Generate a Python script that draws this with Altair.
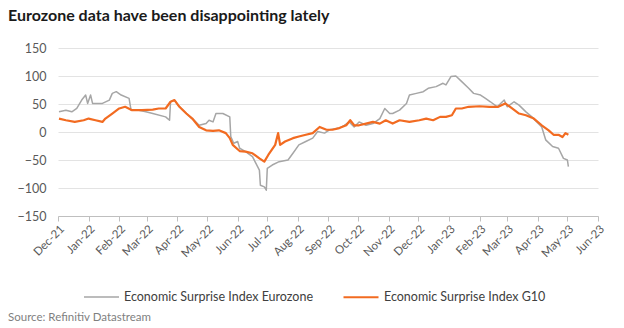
import altair as alt
import pandas as pd

ez_dates = ["2021-12-02","2021-12-09","2021-12-15","2021-12-20","2021-12-25","2021-12-29","2021-12-31",
            "2022-01-03","2022-01-05","2022-01-15","2022-01-22","2022-01-25","2022-01-29","2022-02-03",
            "2022-02-11","2022-02-13","2022-02-21","2022-02-28","2022-03-07","2022-03-20","2022-03-24",
            "2022-03-25","2022-03-29","2022-04-03","2022-04-10","2022-04-16","2022-04-23","2022-04-30",
            "2022-05-03","2022-05-07","2022-05-10","2022-05-17","2022-05-24","2022-05-25","2022-05-28",
            "2022-06-01","2022-06-03","2022-06-09","2022-06-16","2022-06-23","2022-06-24","2022-06-28",
            "2022-06-30","2022-07-01","2022-07-06","2022-07-13","2022-07-22","2022-07-27","2022-08-02",
            "2022-08-09","2022-08-16","2022-08-21","2022-08-28","2022-09-02","2022-09-12","2022-09-17",
            "2022-09-22","2022-09-27","2022-10-02","2022-10-09","2022-10-16","2022-10-23","2022-10-28",
            "2022-11-02","2022-11-05","2022-11-12","2022-11-19","2022-11-22","2022-11-29","2022-12-06",
            "2022-12-11","2022-12-19","2022-12-26","2022-12-29","2023-01-03","2023-01-08","2023-01-14",
            "2023-01-21","2023-01-26","2023-02-02","2023-02-07","2023-02-12","2023-02-19","2023-02-26",
            "2023-03-01","2023-03-08","2023-03-13","2023-03-20","2023-03-26","2023-03-31","2023-04-05",
            "2023-04-09","2023-04-16","2023-04-22","2023-04-27","2023-05-01","2023-05-02"]
ez_values = [36, 39, 36, 42, 57, 66, 51,
             66, 51, 51, 57, 69, 72, 66,
             60, 39, 39, 36, 33, 27, 21,
             54, 57, 45, 33, 24, 12, 15,
             21, 18, 33, 33, 27, -8, -20,
             -17, -29, -35, -44, -68, -95, -98,
             -104, -65, -59, -53, -50, -38, -23,
             -17, -11, 1, -2, 4, 7, 12,
             18, 9, 18, 12, 15, 24, 42,
             33, 33, 39, 51, 66, 69, 72,
             78, 81, 87, 84, 99, 100, 90,
             78, 69, 66, 60, 54, 45, 57,
             45, 54, 48, 36, 27, 18, 9,
             -14, -26, -29, -47, -50, -62]

g10_dates = ["2021-12-02","2021-12-09","2021-12-18","2021-12-27","2022-01-01","2022-01-08","2022-01-15",
             "2022-01-18","2022-01-25","2022-02-01","2022-02-07","2022-02-14","2022-02-24","2022-03-07",
             "2022-03-13","2022-03-20","2022-03-25","2022-03-29","2022-04-03","2022-04-10","2022-04-16",
             "2022-04-23","2022-04-30","2022-05-07","2022-05-13","2022-05-20","2022-05-24","2022-05-27",
             "2022-06-03","2022-06-09","2022-06-16","2022-06-23","2022-06-28","2022-07-02","2022-07-09",
             "2022-07-12","2022-07-14","2022-07-19","2022-07-27","2022-08-02","2022-08-09","2022-08-16",
             "2022-08-23","2022-08-30","2022-09-05","2022-09-12","2022-09-19","2022-09-23","2022-09-27",
             "2022-10-02","2022-10-09","2022-10-16","2022-10-23","2022-10-29","2022-11-05","2022-11-12",
             "2022-11-22","2022-12-02","2022-12-09","2022-12-16","2022-12-23","2022-12-29","2023-01-04",
             "2023-01-08","2023-01-14","2023-01-21","2023-02-01","2023-02-11","2023-02-20","2023-02-27",
             "2023-03-06","2023-03-13","2023-03-20","2023-03-28","2023-04-05","2023-04-12","2023-04-17",
             "2023-04-22","2023-04-26","2023-04-29","2023-05-02"]
g10_values = [24, 21, 18, 21, 24, 21, 18,
              24, 33, 42, 45, 39, 39, 40,
              42, 42, 54, 57, 45, 33, 24,
              9, 3, 2, 3, -2, -11, -23,
              -34, -35, -38, -47, -53, -41, -23,
              -2, -23, -17, -11, -8, -5, -2,
              9, 4, 4, 7, 12, 21, 12,
              12, 15, 18, 15, 21, 15, 21,
              18, 21, 24, 21, 27, 27, 30,
              42, 42, 45, 46, 45, 45, 51,
              42, 33, 30, 24, 12, 3, -5,
              -5, -9, -2, -5]

s_ez = "Economic Surprise Index Eurozone"
s_g10 = "Economic Surprise Index G10"

df = pd.concat([
    pd.DataFrame({"date": ez_dates, "value": ez_values, "series": s_ez}),
    pd.DataFrame({"date": g10_dates, "value": g10_values, "series": s_g10}),
])

FONT = "Lato"
W, H = 540, 168

lines = alt.Chart(df).mark_line(strokeJoin="round").encode(
    x=alt.X("date:T",
            scale=alt.Scale(domain=["2021-12-01", "2023-06-01"]),
            axis=alt.Axis(title=None, format="%b-%y", tickCount={"interval": "month", "step": 1},
                          labelAngle=-45, labelAlign="right", labelBaseline="top",
                          labelColor="#595959", labelFontSize=11.5, labelFont=FONT,
                          domainColor="#bfbfbf", tickColor="#bfbfbf", tickSize=5,
                          grid=False, labelPadding=2, labelOverlap=False)),
    y=alt.Y("value:Q",
            scale=alt.Scale(domain=[-150, 150], nice=False),
            axis=alt.Axis(title=None, values=[-150, -100, -50, 0, 50, 100, 150],
                          domain=False, ticks=False, gridColor="#e3e3e3",
                          labelColor="#595959", labelFontSize=12.5, labelFont=FONT,
                          labelPadding=12)),
    color=alt.Color("series:N",
                    scale=alt.Scale(domain=[s_ez, s_g10], range=["#a6a6a6", "#f26b21"]),
                    legend=alt.Legend(title=None, orient="none", direction="horizontal",
                                      legendX=25, legendY=230, symbolType="stroke",
                                      symbolSize=1225, symbolStrokeWidth=2,
                                      labelFontSize=12.5, labelFont=FONT, labelColor="#404040",
                                      labelLimit=0, columnPadding=25, labelOffset=4)),
    strokeWidth=alt.StrokeWidth("series:N",
                                scale=alt.Scale(domain=[s_ez, s_g10], range=[1.5, 2.2]),
                                legend=None),
)

source = alt.Chart(pd.DataFrame({"t": ["Source: Refinitiv Datastream"]})).mark_text(
    align="left", baseline="middle", font=FONT, fontSize=11.5, color="#7f7f7f"
).encode(x=alt.value(-50), y=alt.value(270), text="t:N")

chart = alt.layer(lines, source).properties(
    width=W, height=H,
    title=alt.TitleParams("Eurozone data have been disappointing lately", anchor="start",
                          frame="group", dx=-50, offset=18, font=FONT, fontSize=16,
                          fontWeight="bold", color="#1a1a1a"),
    autosize=alt.AutoSizeParams(type="none"),
    padding={"left": 58, "top": 48, "right": 26, "bottom": 112},
).configure_view(stroke=None)

chart.save("out.html", embed_options={"renderer": "svg", "actions": False})
